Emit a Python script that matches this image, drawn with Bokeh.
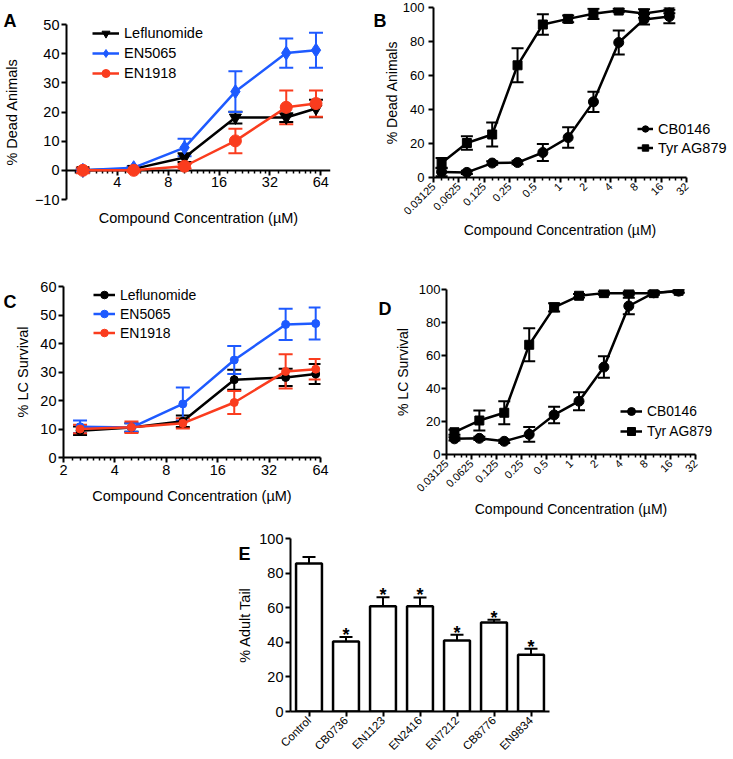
import math
from bokeh.plotting import figure
from bokeh.models import (ColumnDataSource, Whisker, TeeHead, FixedTicker, CustomJSTickFormatter,
                          Legend, LegendItem, Label, Range1d, FactorRange, LogAxis)
from bokeh.embed import file_html
from bokeh.resources import INLINE
from bokeh.core.properties import value

FONT = "Liberation Sans"
BLACK = "#000000"
BLUE = "#1e5aff"
RED = "#fa3c1e"

# ---------------- data ----------------
# Panel A  (% Dead Animals)
a_conc = [2.5, 5, 10, 20, 40, 60]
a_lef = [0, 0.5, 4.4, 18.1, 18.1, 21.2]
a_lef_err = [0.5, 0.5, 1.5, 2, 1.5, 3]
a_en5065 = [0, 0.9, 7.8, 27, 40.2, 41.2]
a_en5065_err = [0.5, 0.5, 3, 7, 5, 6]
a_en1918 = [0, 0, 1.4, 10.1, 21.6, 22.9]
a_en1918_err = [1, 0.5, 0.8, 4.2, 5.8, 4.5]
a_xticks = [4, 8, 16, 32, 64]
a_yticks = [-10, 0, 10, 20, 30, 40, 50]

# Panel B  (% Dead Animals)
bd_conc = [0.039, 0.078, 0.156, 0.3125, 0.625, 1.25, 2.5, 5, 10, 20]
b_cb0146 = [3.3, 3, 8.5, 8.8, 14.7, 23.5, 44.5, 79.4, 93, 94.7]
b_cb0146_err = [2.5, 1, 1, 1, 5, 6, 6, 7, 3, 4]
b_tyr = [8.5, 20.3, 25.3, 66, 90, 93.3, 96.3, 98.2, 96.5, 98.6]
b_tyr_err = [3, 4, 7, 10, 6, 2, 3, 1, 2.5, 2]
bd_xticks = [0.03125, 0.0625, 0.125, 0.25, 0.5, 1, 2, 4, 8, 16, 32]
bd_yticks = [0, 20, 40, 60, 80, 100]

# Panel C  (% LC Survival)
c_conc = [2.5, 5, 10, 20, 40, 60]
c_lef = [9.4, 10.5, 12.7, 27.3, 28.1, 29.3]
c_lef_err = [1.5, 1.5, 2, 3.5, 3, 3.5]
c_en5065 = [10.8, 10.5, 18.8, 34.2, 46.7, 47.0]
c_en5065_err = [2.2, 1.5, 5.8, 4.9, 5.5, 5.6]
c_en1918 = [10.0, 10.6, 12.0, 19.3, 30.2, 31.0]
c_en1918_err = [1.5, 2.0, 1.8, 4.0, 6.0, 3.6]
c_xticks = [2, 4, 8, 16, 32, 64]
c_yticks = [0, 10, 20, 30, 40, 50, 60]

# Panel D  (% LC Survival)
d_cb0146 = [9.5, 9.8, 8.0, 12.2, 24, 32.3, 53, 90, 98, 99]
d_cb0146_err = [1, 1, 1, 4.5, 5, 5.5, 6.5, 5, 1, 1]
d_tyr = [13.5, 20.6, 25.3, 66.5, 89.2, 96.2, 97.8, 97.8, 97.8, 99.2]
d_tyr_err = [1.5, 6, 7, 10, 2.5, 1, 1, 1, 1, 1]

# Panel E  (% Adult Tail)
e_groups = ["Control", "CB0736", "EN1123", "EN2416", "EN7212", "CB8776", "EN9834"]
e_vals = [85.5, 40.5, 60.8, 60.8, 41.0, 51.4, 32.8]
e_errs = [3.8, 2.6, 5.3, 5.1, 3.3, 1.6, 3.4]
e_stars = ["", "*", "*", "*", "*", "*", "*"]
e_yticks = [0, 20, 40, 60, 80, 100]

PAGE_W, PAGE_H = 733, 759


# ---------------- helpers ----------------
def lin_minor(majors, n):
    out = []
    for a, b in zip(majors[:-1], majors[1:]):
        out += [a + (b - a) * k / n for k in range(1, n)]
    return out


def base_fig(left_px, top_px, w, h, bl, br, bt, bb, xr, yr, xlog=True):
    kw = dict(width=w, height=h, x_range=xr, y_range=yr, output_backend="svg",
              toolbar_location=None, min_border_left=bl, min_border_right=br,
              min_border_top=bt, min_border_bottom=bb,
              styles={"position": "absolute", "left": f"{left_px}px", "top": f"{top_px}px"})
    if xlog:
        kw["x_axis_type"] = "log"
    p = figure(**kw)
    p.xgrid.visible = False
    p.ygrid.visible = False
    p.outline_line_color = None
    return p


def style_axis(ax, tick_fs, label_fs):
    ax.axis_line_width = 2
    ax.axis_line_color = BLACK
    ax.major_tick_line_width = 2
    ax.major_tick_line_color = BLACK
    ax.minor_tick_line_width = 1.5
    ax.minor_tick_line_color = BLACK
    ax.major_tick_in = 0
    ax.major_tick_out = 5
    ax.minor_tick_in = 0
    ax.minor_tick_out = 3
    ax.major_label_text_font = FONT
    ax.major_label_text_font_size = tick_fs
    ax.major_label_text_color = BLACK
    ax.major_label_standoff = 2
    ax.axis_label_text_font = FONT
    ax.axis_label_text_font_size = label_fs
    ax.axis_label_text_font_style = "normal"
    ax.axis_label_text_color = BLACK


def style_axes(p, tick_fs, label_fs):
    for ax in p.axis:
        style_axis(ax, tick_fs, label_fs)
    p.yaxis.minor_tick_line_color = None


def add_series(p, x, y, err, color, marker, size, lw, cap):
    src = ColumnDataSource(dict(x=x, y=y,
                                lo=[a - b for a, b in zip(y, err)],
                                hi=[a + b for a, b in zip(y, err)]))
    wk = Whisker(base="x", lower="lo", upper="hi", source=src, line_color=color, line_width=2,
                 upper_head=TeeHead(size=cap, line_color=color, line_width=2),
                 lower_head=TeeHead(size=cap, line_color=color, line_width=2), level="underlay")
    p.add_layout(wk)
    ln = p.line("x", "y", source=src, line_color=color, line_width=lw)
    sc = p.scatter("x", "y", source=src, marker=marker, size=size, fill_color=color,
                   line_color=color)
    return [ln, sc]


def add_legend(p, items, loc, fs, glyph_w, item_h):
    lg = Legend(items=[LegendItem(label=l, renderers=r) for l, r in items], location=loc,
                label_text_font=FONT, label_text_font_size=fs, label_text_color=BLACK,
                glyph_width=glyph_w, glyph_height=item_h, label_height=item_h,
                label_standoff=5, padding=0, spacing=0, margin=0,
                border_line_color=None, background_fill_alpha=0, inactive_fill_alpha=0)
    p.add_layout(lg)


fmt = CustomJSTickFormatter(code="return String(tick)")
XLABEL = "Compound Concentration (\u00b5M)"

# ---------------- Panel A ----------------
a_xend = 64 * 2 ** (10 / 52)   # frame runs a few px past 64 so the "64" label is not clipped
pa = base_fig(0, 0, 362, 268, 60, 32, 24, 69, Range1d(2, a_xend), Range1d(-10, 50))
pa.yaxis.ticker = FixedTicker(ticks=a_yticks)
pa.yaxis.axis_label = "% Dead Animals"
style_axes(pa, "14.5px", "14.5px")
pa.yaxis.axis_label_standoff = 12
# bottom axis only carries the axis title
lab_ax = pa.xaxis[0]
lab_ax.ticker = FixedTicker(ticks=[])
lab_ax.axis_line_color = None
lab_ax.major_tick_out = 0
lab_ax.minor_tick_out = 0
lab_ax.axis_label = XLABEL
lab_ax.axis_label_standoff = 10
# the drawn x axis crosses at y = 0
zero_ax = LogAxis(fixed_location=0, formatter=fmt,
                  ticker=FixedTicker(ticks=a_xticks, minor_ticks=lin_minor([2] + a_xticks, 8)))
style_axis(zero_ax, "14.5px", "14.5px")
zero_ax.level = "underlay"
pa.add_layout(zero_ax, "below")
ra1 = add_series(pa, a_conc, a_lef, a_lef_err, BLACK, "inverted_triangle", 12, 2.5, 14)
ra2 = add_series(pa, a_conc, a_en5065, a_en5065_err, BLUE, "diamond", 14, 2.5, 14)
ra3 = add_series(pa, a_conc, a_en1918, a_en1918_err, RED, "circle", 12, 2.5, 14)
add_legend(pa, [("Leflunomide", ra1), ("EN5065", ra2), ("EN1918", ra3)], (26, 116),
           "14.5px", 27, 20)

# ---------------- Panel B ----------------
pb = base_fig(362, 0, 371, 268, 71, 47, 7, 91, Range1d(0.03125, 32), Range1d(0, 100))
pb.xaxis.ticker = FixedTicker(ticks=bd_xticks, minor_ticks=lin_minor(bd_xticks, 4))
pb.xaxis.formatter = fmt
pb.yaxis.ticker = FixedTicker(ticks=bd_yticks)
pb.xaxis.axis_label = XLABEL
pb.yaxis.axis_label = "% Dead Animals"
style_axes(pb, "13px", "14px")
pb.xaxis.major_label_text_font_size = "11px"
pb.xaxis.major_label_orientation = math.pi / 4
pb.xaxis.axis_label_standoff = 1
pb.yaxis.major_label_standoff = 4
pb.yaxis.axis_label_standoff = 0
add_series(pb, bd_conc, b_cb0146, b_cb0146_err, BLACK, "circle", 10, 2.5, 12)
add_series(pb, bd_conc, b_tyr, b_tyr_err, BLACK, "square", 9, 2.5, 12)

# ---------------- Panel C ----------------
pc = base_fig(0, 268, 362, 247, 63, 42, 18, 58, Range1d(2, 64), Range1d(0, 60))
pc.xaxis.ticker = FixedTicker(ticks=c_xticks, minor_ticks=lin_minor(c_xticks, 8))
pc.xaxis.formatter = fmt
pc.yaxis.ticker = FixedTicker(ticks=c_yticks)
pc.xaxis.axis_label = XLABEL
pc.yaxis.axis_label = "% LC Survival"
style_axes(pc, "14.5px", "14.5px")
pc.xaxis.axis_label_standoff = 10
pc.yaxis.axis_label_standoff = 6
rc1 = add_series(pc, c_conc, c_lef, c_lef_err, BLACK, "circle", 8, 2.5, 14)
rc2 = add_series(pc, c_conc, c_en5065, c_en5065_err, BLUE, "circle", 8, 2.5, 14)
rc3 = add_series(pc, c_conc, c_en1918, c_en1918_err, RED, "circle", 8, 2.5, 14)
add_legend(pc, [("Leflunomide", rc1), ("EN5065", rc2), ("EN1918", rc3)], (30, 115),
           "14px", 22, 19)

# ---------------- Panel D ----------------
pd_ = base_fig(362, 268, 371, 252, 84, 38, 21, 66, Range1d(0.03125, 32), Range1d(0, 100))
pd_.xaxis.ticker = FixedTicker(ticks=bd_xticks, minor_ticks=lin_minor(bd_xticks, 4))
pd_.xaxis.formatter = fmt
pd_.yaxis.ticker = FixedTicker(ticks=bd_yticks)
pd_.xaxis.axis_label = XLABEL
pd_.yaxis.axis_label = "% LC Survival"
style_axes(pd_, "13px", "14px")
pd_.xaxis.major_label_text_font_size = "11px"
pd_.xaxis.major_label_orientation = math.pi / 4
pd_.xaxis.axis_label_standoff = 3
pd_.yaxis.major_label_standoff = 1
pd_.yaxis.axis_label_standoff = 5
add_series(pd_, bd_conc, d_cb0146, d_cb0146_err, BLACK, "circle", 10, 2.5, 12)
add_series(pd_, bd_conc, d_tyr, d_tyr_err, BLACK, "square", 9, 2.5, 12)

# ---------------- Panel E ----------------
pe = base_fig(222, 522, 340, 237, 68, 13, 16, 46, FactorRange(factors=e_groups),
              Range1d(0, 100), xlog=False)
pe.yaxis.ticker = FixedTicker(ticks=e_yticks)
pe.yaxis.axis_label = "% Adult Tail"
style_axes(pe, "14.5px", "14.5px")
pe.xaxis.major_label_text_font_size = "11.5px"
pe.xaxis.major_label_orientation = math.pi / 4
pe.yaxis.axis_label_standoff = 3
esrc = ColumnDataSource(dict(g=e_groups, v=e_vals,
                             hi=[a + b for a, b in zip(e_vals, e_errs)], star=e_stars))
pe.add_layout(Whisker(base="g", lower="v", upper="hi", source=esrc, line_color=BLACK,
                      line_width=2, lower_head=None,
                      upper_head=TeeHead(size=13, line_color=BLACK, line_width=2),
                      level="underlay"))
pe.vbar(x="g", top="v", width=0.7, source=esrc, fill_color="white", line_color=BLACK,
        line_width=2.5)
pe.text(x="g", y="hi", text="star", source=esrc, text_font=value(FONT),
        text_font_size=value("18px"), text_font_style="bold", text_align="center",
        text_baseline="alphabetic", y_offset=-2, text_color=BLACK)

# ---------------- transparent overlay: panel letters and the B / D legends ----------------
ov = figure(width=PAGE_W, height=PAGE_H, x_range=Range1d(0, 1), y_range=Range1d(0, 1),
            output_backend="svg", toolbar_location=None, min_border=0,
            styles={"position": "absolute", "left": "0px", "top": "0px"})
ov.axis.visible = False
ov.xgrid.visible = False
ov.ygrid.visible = False
ov.outline_line_color = None
ov.background_fill_color = None
ov.border_fill_color = None
for txt, lx, ly in [("A", 3, 20), ("B", 373, 20), ("C", 3, 301), ("D", 378, 308),
                    ("E", 238, 553)]:
    ov.add_layout(Label(x=lx, y=PAGE_H - ly, x_units="screen", y_units="screen", text=txt,
                        text_font=FONT, text_font_size="18px", text_font_style="bold",
                        text_color=BLACK, text_baseline="alphabetic"))


def proxy(xs, ys, marker, size):
    # hidden copies of a panel's series, used only to draw its legend glyphs
    ln = ov.line(x=xs, y=ys, line_color=BLACK, line_width=2.5, visible=False)
    sc = ov.scatter(x=xs, y=ys, marker=marker, size=size, fill_color=BLACK, line_color=BLACK,
                    visible=False)
    return [ln, sc]


add_legend(ov, [("CB0146", proxy(bd_conc, b_cb0146, "circle", 10)),
                ("Tyr AG879", proxy(bd_conc, b_tyr, "square", 9))],
           (637, PAGE_H - 157), "14.5px", 16, 19)
add_legend(ov, [("CB0146", proxy(bd_conc, d_cb0146, "circle", 10)),
                ("Tyr AG879", proxy(bd_conc, d_tyr, "square", 9))],
           (620, PAGE_H - 441), "13.8px", 22, 20)

open("out.html", "w").write(file_html([pa, pb, pc, pd_, pe, ov], INLINE))
